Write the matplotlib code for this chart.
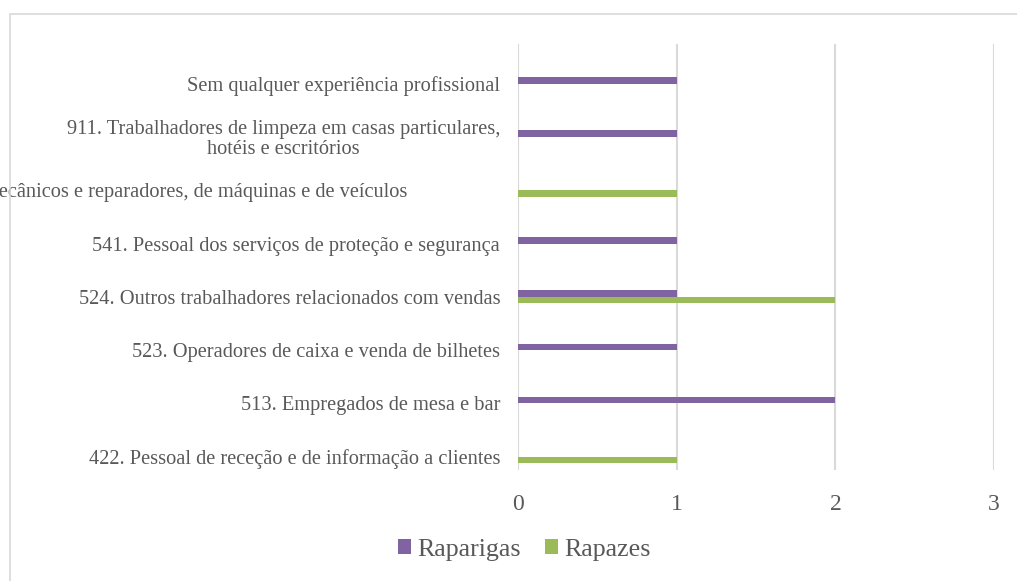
import matplotlib
matplotlib.use("Agg")
import matplotlib.pyplot as plt
import matplotlib.transforms as mtransforms
from matplotlib.patches import Rectangle
import numpy as np

# categories bottom -> top
categorias = [
    "422. Pessoal de receção e de informação a clientes",
    "513. Empregados de mesa e bar",
    "523. Operadores de caixa e venda de bilhetes",
    "524. Outros trabalhadores relacionados com vendas",
    "541. Pessoal dos serviços de proteção e segurança",
    "723. Mecânicos e reparadores, de máquinas e de veículos",
    "911. Trabalhadores de limpeza em casas particulares,\nhotéis e escritórios",
    "Sem qualquer experiência profissional",
]
raparigas = [0, 2, 1, 1, 1, 0, 1, 1]
rapazes = [1, 0, 0, 2, 0, 1, 0, 0]
xticks = [0, 1, 2, 3]

roxo = "#8064A2"
verde = "#9BBB59"
cinza = "#595959"
grelha = "#D9D9D9"

plt.rcParams["font.family"] = ["Liberation Serif", "DejaVu Serif"]

W, H = 1017, 581
fig = plt.figure(figsize=(W / 100, H / 100), dpi=100)
ax = fig.add_axes([518.3 / W, 1 - 470 / H, (994 - 518.3) / W, (470 - 44) / H])

y = np.arange(len(categorias))
h = 0.122
ax.barh(y + h / 2, raparigas, height=h, color=roxo, label="Raparigas", zorder=3)
ax.barh(y - h / 2, rapazes, height=h, color=verde, label="Rapazes", zorder=3)

ax.set_xlim(0, 3)
ax.set_ylim(-0.25, 7.745)
ax.set_xticks(xticks)
ax.set_xticklabels([str(t) for t in xticks], fontsize=17, color=cinza)
ax.set_yticks(y)
ax.set_yticklabels(categorias, fontsize=14.7, color=cinza)
ax.tick_params(axis="x", length=0, pad=17)
ax.tick_params(axis="y", length=0, pad=13)
for lab in ax.get_yticklabels():
    lab.set_multialignment("center")
    lab.set_linespacing(1.05)
# the long 723 label sits further left and is cut by the figure edge
lab723 = ax.get_yticklabels()[5]
lab723.set_transform(lab723.get_transform() +
                     mtransforms.ScaledTranslation(-0.93, 0, fig.dpi_scale_trans))

ax.grid(axis="x", color=grelha, linewidth=1.5, zorder=0)
for s in ax.spines.values():
    s.set_visible(False)

leg = fig.legend(loc="center", bbox_to_anchor=(524.5 / W, 1 - 550 / H), ncol=2,
                 frameon=False, fontsize=18.7, handlelength=0.5, handleheight=0.5,
                 handletextpad=0.25, columnspacing=0.9, borderpad=0)
for t in leg.get_texts():
    t.set_color(cinza)

fig.patches.append(Rectangle((10 / W, -0.1), 1.2, 1 - 14 / H + 0.1,
                             transform=fig.transFigure, fill=False,
                             edgecolor=grelha, linewidth=1.2))

fig.savefig("out.png", dpi=100)
